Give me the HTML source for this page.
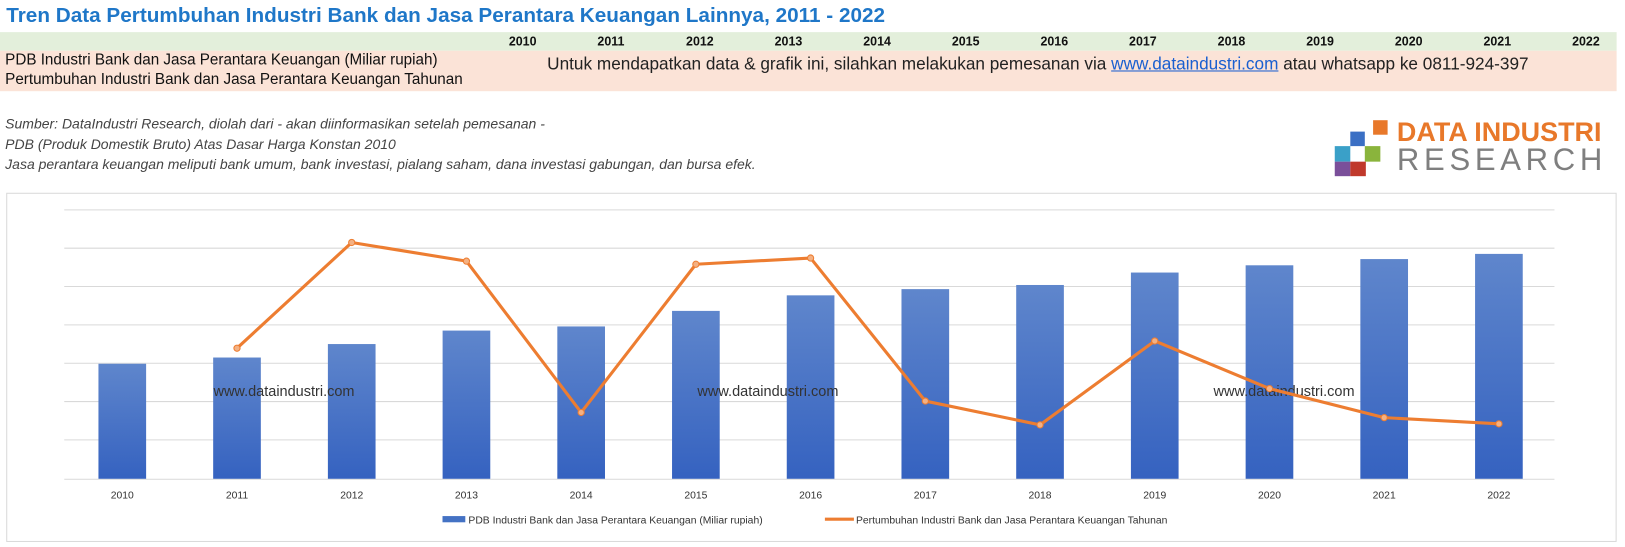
<!DOCTYPE html>
<html><head><meta charset="utf-8"><style>
body{margin:0;width:1625px;height:547px;background:#fff;font-family:"Liberation Sans",sans-serif;position:relative;overflow:hidden}
#w{position:absolute;left:0;top:0;width:1568px;height:528px;transform:scale(1.0363);transform-origin:0 0}
.a{position:absolute;white-space:nowrap}
</style></head><body><div id="w">
<div class="a" style="left:6px;top:4px;font-size:20px;font-weight:bold;color:#1f77c8">Tren Data Pertumbuhan Industri Bank dan Jasa Perantara Keuangan Lainnya, 2011 - 2022</div>
<div class="a" style="left:0;top:31px;width:1560px;height:18px;background:#e3efdb"></div>
<div class="a" style="left:0;top:49px;width:1560px;height:39px;background:#fbe3d7"></div>
<div class="a" style="left:5px;top:50px;font-size:14.7px;color:#111">PDB Industri Bank dan Jasa Perantara Keuangan (Miliar rupiah)</div>
<div class="a" style="left:5px;top:69px;font-size:14.7px;color:#111">Pertumbuhan Industri Bank dan Jasa Perantara Keuangan Tahunan</div>
<div class="a" style="left:528px;top:52px;font-size:16.6px;color:#222">Untuk mendapatkan data &amp; grafik ini, silahkan melakukan pemesanan via <span style="color:#1a5fd0;text-decoration:underline">www.dataindustri.com</span> atau whatsapp ke 0811-924-397</div>
<div class="a" style="left:5px;top:110px;font-size:13.5px;font-style:italic;color:#444;line-height:19.5px">Sumber: DataIndustri Research, diolah dari - akan diinformasikan setelah pemesanan -<br>PDB (Produk Domestik Bruto) Atas Dasar Harga Konstan 2010<br>Jasa perantara keuangan meliputi bank umum, bank investasi, pialang saham, dana investasi gabungan, dan bursa efek.</div>
<div class="a" style="left:1325px;top:116px;width:14px;height:14px;background:#e8782a"></div>
<div class="a" style="left:1303px;top:127px;width:14px;height:14px;background:#3a6fc4"></div>
<div class="a" style="left:1288px;top:141px;width:15px;height:15px;background:#3aa0c8"></div>
<div class="a" style="left:1317px;top:141px;width:15px;height:15px;background:#8ab43c"></div>
<div class="a" style="left:1288px;top:156px;width:15px;height:14px;background:#7a4f9a"></div>
<div class="a" style="left:1303px;top:156px;width:15px;height:14px;background:#c0392b"></div>
<div class="a" style="left:1348px;top:112px;font-size:26px;font-weight:bold;color:#e8782a">DATA INDUSTRI</div>
<div class="a" style="left:1348px;top:138px;font-size:30px;color:#7f7f7f;letter-spacing:4.5px">RESEARCH</div>
<svg class="a" style="left:0;top:0" width="1568" height="528">
<rect x="6.5" y="186.5" width="1553" height="336" fill="none" stroke="#d9d9d9"/>
<g stroke="#d9d9d9" stroke-width="1" id="grid"></g>
<defs><linearGradient id="g" x1="0" y1="0" x2="0" y2="1"><stop offset="0" stop-color="#5f86cc"/><stop offset="1" stop-color="#3562c0"/></linearGradient></defs>
<g id="bars"></g>
<g id="lbl" font-size="10" fill="#333" text-anchor="middle"></g>
<g font-size="14" fill="#333"><text x="206" y="382">www.dataindustri.com</text><text x="673" y="382">www.dataindustri.com</text><text x="1171" y="382">www.dataindustri.com</text></g>
<polyline id="ln" fill="none" stroke="#ed7d31" stroke-width="3" stroke-linejoin="round"/>
<g id="mk"></g>
<rect x="427" y="498" width="22" height="6" fill="#4472c4"/>
<text x="452" y="505" font-size="10" fill="#333">PDB Industri Bank dan Jasa Perantara Keuangan (Miliar rupiah)</text>
<line x1="796" y1="501" x2="824" y2="501" stroke="#ed7d31" stroke-width="3"/>
<text x="826" y="505" font-size="10" fill="#333">Pertumbuhan Industri Bank dan Jasa Perantara Keuangan Tahunan</text>
</svg>
</div>
<script>
var ns="http://www.w3.org/2000/svg";
function el(p,t,a){var e=document.createElementNS(ns,t);for(var k in a)e.setAttribute(k,a[k]);document.getElementById(p).appendChild(e);return e;}
[202,239,276,313,350,387,424,462].forEach(function(y){el("grid","line",{x1:62,x2:1500,y1:y+.5,y2:y+.5});});
var tops=[351,345,332,319,315,300,285,279,275,263,256,250,245];
var pts=[];var ly=[null,336,234,252,398,255,249,387,410,329,375,403,409];
for(var i=0;i<13;i++){var cx=118+i*110.7;
el("bars","rect",{x:cx-23,y:tops[i],width:46,height:462-tops[i],fill:"url(#g)"});
var t=el("lbl","text",{x:cx,y:481});t.textContent=2010+i;
if(ly[i]){pts.push(cx+","+ly[i]);el("mk","circle",{cx:cx,cy:ly[i],r:3,fill:"#f4b183",stroke:"#ed7d31","stroke-width":1});}
var d=document.createElement("div");d.className="a";d.style.cssText="left:"+(491+i*85.5)+"px;top:33px;font-size:12px;font-weight:bold;color:#111";d.textContent=2010+i;document.getElementById("w").appendChild(d);}
document.getElementById("ln").setAttribute("points",pts.join(" "));
</script>
</body></html>
